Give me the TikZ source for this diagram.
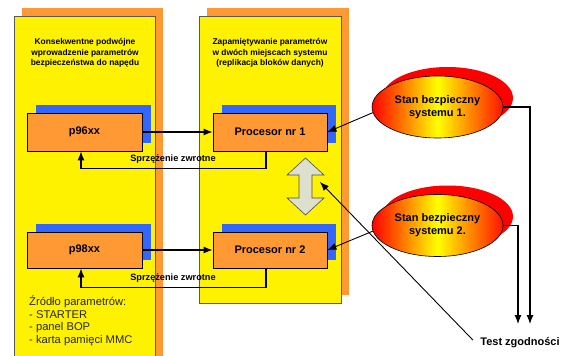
\documentclass[tikz,border=0pt]{standalone}
\usepackage{fontspec}
\setmainfont{Liberation Sans}
\usetikzlibrary{shapes,arrows.meta,positioning,calc,shadows}

\definecolor{panelorange}{RGB}{255,153,51}
\definecolor{shadowblue}{RGB}{51,102,255}
\definecolor{arrowgray}{RGB}{221,224,204}

\begin{document}
\begin{tikzpicture}[x=1pt, y=-1pt,
    panel/.style={rectangle, draw=black!65, line width=0.8pt, fill=yellow, anchor=north west, inner sep=0pt,
        general shadow={shadow xshift=8pt, shadow yshift=8pt, fill=panelorange}},
    title/.style={align=center, font=\bfseries\fontsize{8.4}{10.3}\selectfont},
    box/.style={rectangle, draw, line width=0.8pt, fill=panelorange, minimum width=115pt, minimum height=38pt,
        font=\bfseries\fontsize{11}{13}\selectfont, inner sep=0pt,
        general shadow={shadow xshift=8.5pt, shadow yshift=8pt, fill=shadowblue}},
    state/.style={ellipse, draw, line width=0.6pt, minimum width=131pt, minimum height=62pt, inner sep=0pt,
        left color=red, right color=red!85!orange, middle color=yellow, align=center,
        font=\bfseries\fontsize{11}{13}\selectfont},
    stateshadow/.style={ellipse, fill=red, minimum width=131pt, minimum height=62pt, inner sep=0pt},
    label/.style={font=\bfseries\fontsize{9.2}{11}\selectfont},
    arrow/.style={-{Latex[length=9pt,width=7pt]}, line width=1.1pt},
    thin arrow/.style={-{Latex[length=9pt,width=7pt]}, line width=0.9pt}
]
\clip (0,0) rectangle (565,356);

% Panels
\node[panel, minimum width=141pt, minimum height=350pt] (leftpanel) at (14,16) {};
\node[panel, minimum width=142pt, minimum height=287pt] (midpanel) at (199,16) {};

\node[title] (lefttitle) at (85,53) {Konsekwentne podwójne\\wprowadzenie parametrów\\bezpieczeństwa do napędu};
\node[title] (midtitle) at (270,53) {Zapamiętywanie parametrów\\w dwóch miejscach systemu\\(replikacja bloków danych)};

% Parameter blocks
\node[box] (p96) at (84.5,132) {p96xx};
\node[box, minimum height=36pt] (p98) at (84.5,250) {p98xx};
\node[box, minimum width=114pt] (proc1) at (270,132) {Procesor nr 1};
\node[box, minimum width=114pt, minimum height=36pt] (proc2) at (270,250) {Procesor nr 2};

\node[anchor=north west, align=left, text=black!85, inner sep=0pt,
      font=\fontsize{11.2}{12.5}\selectfont] (source) at (29,296)
      {Źródło parametrów:\\- STARTER\\- panel BOP\\- karta pamięci MMC};

% Replication
\draw[draw=black!70, line width=0.6pt, fill=arrowgray]
    (305.5,158) -- (324,175) -- (312,175) -- (312,198) -- (324,198) -- (305.5,215)
    -- (287,198) -- (299,198) -- (299,175) -- (287,175) -- cycle;
\coordinate (reptip) at (320,182);

% Safe states
\node[stateshadow] (shadow1) at (447.5,98) {};
\node[stateshadow] (shadow2) at (447.5,216.5) {};
\node[state] (state1) at (437.5,107) {Stan bezpieczny\\systemu 1.};
\node[state] (state2) at (437.5,225.5) {Stan bezpieczny\\systemu 2.};

\node[font=\bfseries\fontsize{11}{13}\selectfont] (test) at (520,343) {Test zgodności};
\coordinate (tip1) at (530,324);
\coordinate (tip2) at (518,324);

% Arrows
\draw[arrow] (p96) -- (proc1);
\draw[arrow] (p98) -- (proc2);
\draw[arrow] ([xshift=-4pt]proc1.south) -- ++(0,17) -| ([xshift=-3.5pt]p96.south);
\draw[arrow] ([xshift=-4pt]proc2.south) -- ++(0,19) -| ([xshift=-3.5pt]p98.south);
\node[label] (fb1) at (173,159) {Sprzężenie zwrotne};
\node[label] (fb2) at (173,278) {Sprzężenie zwrotne};

\draw[thin arrow] (state1.185) -- (proc1.east);
\draw[thin arrow] (state2.185) -- (proc2.east);
\draw[arrow] (state1.east) -| (tip1);
\draw[arrow] (state2.east) -| (tip2);
\draw[thin arrow] ([xshift=-4pt,yshift=3pt]test.west) -- (reptip);

\end{tikzpicture}
\end{document}
